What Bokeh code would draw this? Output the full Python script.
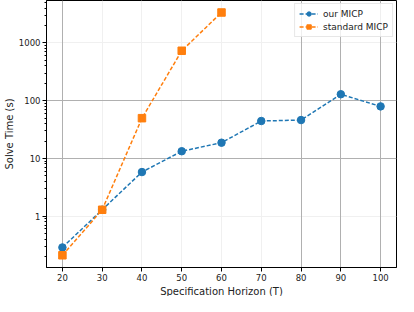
from bokeh.plotting import figure
from bokeh.models import (Range1d, FixedTicker, CustomJSTickFormatter, Grid,
                          Legend, LegendItem, Title)
from bokeh.embed import file_html
from bokeh.resources import INLINE

horizons = [20, 30, 40, 50, 60, 70, 80, 90, 100]
our_micp = [0.287, 1.29, 5.8, 13.3, 18.7, 44.4, 46.1, 129, 79.5]
std_horizons = [20, 30, 40, 50, 60]
std_micp = [0.21, 1.29, 49.7, 730, 3360]
x_ticks = [20, 30, 40, 50, 60, 70, 80, 90, 100]
y_ticks = [1, 10, 100, 1000]

FONT = "DejaVu Sans"
BLUE = "#1f77b4"
ORANGE = "#ff7f0e"

p = figure(width=398, height=296, y_axis_type="log",
           x_range=Range1d(16, 104), y_range=Range1d(0.129, 5420),
           output_backend="svg", toolbar_location=None,
           min_border_left=0, min_border_right=2, min_border_top=0,
           min_border_bottom=0)

minor = []
for dec in [0.1, 1, 10, 100, 1000]:
    for k in range(2, 10):
        minor.append(dec * k)
p.yaxis.ticker = FixedTicker(ticks=y_ticks, minor_ticks=minor)
p.yaxis.formatter = CustomJSTickFormatter(code="return String(Math.round(tick));")
p.xaxis.ticker = FixedTicker(ticks=x_ticks)

for ax in (p.xaxis, p.yaxis):
    ax.major_label_text_font = FONT
    ax.major_label_text_font_size = "8.5px"
    ax.major_label_text_color = "#222222"
    ax.axis_line_color = "black"
    ax.major_tick_line_color = "black"
    ax.minor_tick_line_color = "black"
    ax.major_tick_out = 4
    ax.major_tick_in = 0
    ax.minor_tick_out = 2
    ax.minor_tick_in = 0
    ax.major_label_standoff = 2
p.xaxis.minor_tick_line_color = None

xt = Title(text="Specification Horizon (T)", align="center", text_font=FONT,
           text_font_size="10px", text_font_style="normal", text_color="#222222",
           standoff=0, offset=0)
p.add_layout(xt, "below")
yt = Title(text="Solve Time (s)", align="center", text_font=FONT,
           text_font_size="10px", text_font_style="normal", text_color="#222222",
           standoff=2, offset=0)
p.add_layout(yt, "left")

# grids: faint and strong lines
p.xgrid.ticker = FixedTicker(ticks=[30, 40, 50, 60, 70])
p.xgrid.grid_line_color = "#f0f0f0"
p.ygrid.ticker = FixedTicker(ticks=[1, 1000])
p.ygrid.grid_line_color = "#f0f0f0"
p.add_layout(Grid(dimension=0, ticker=FixedTicker(ticks=[20, 80, 90, 100]),
                  grid_line_color="#b0b0b0", grid_line_width=1))
p.add_layout(Grid(dimension=1, ticker=FixedTicker(ticks=[10, 100]),
                  grid_line_color="#b0b0b0", grid_line_width=1))

p.outline_line_color = "black"
p.outline_line_width = 1

l1 = p.line(horizons, our_micp, line_color=BLUE, line_width=1.5, line_dash="4 2")
s1 = p.scatter(horizons, our_micp, marker="circle", size=7.5, fill_color=BLUE,
               line_color=BLUE)
l2 = p.line(std_horizons, std_micp, line_color=ORANGE, line_width=1.5, line_dash="4 2")
s2 = p.scatter(std_horizons, std_micp, marker="square", size=7.5, fill_color=ORANGE,
               line_color=ORANGE)

legend = Legend(items=[LegendItem(label="our MICP", renderers=[l1, s1]),
                       LegendItem(label="standard MICP", renderers=[l2, s2])],
                location="top_right")
legend.label_text_font = FONT
legend.label_text_font_size = "9px"
legend.label_text_color = "#222222"
legend.glyph_width = 19
legend.glyph_height = 11
legend.label_height = 11
legend.spacing = 2
legend.padding = 4
legend.margin = 3
legend.label_standoff = 5
legend.border_line_color = "#d0d0d0"
legend.background_fill_alpha = 0.8
p.add_layout(legend)

open("out.html", "w").write(file_html(p, INLINE))
